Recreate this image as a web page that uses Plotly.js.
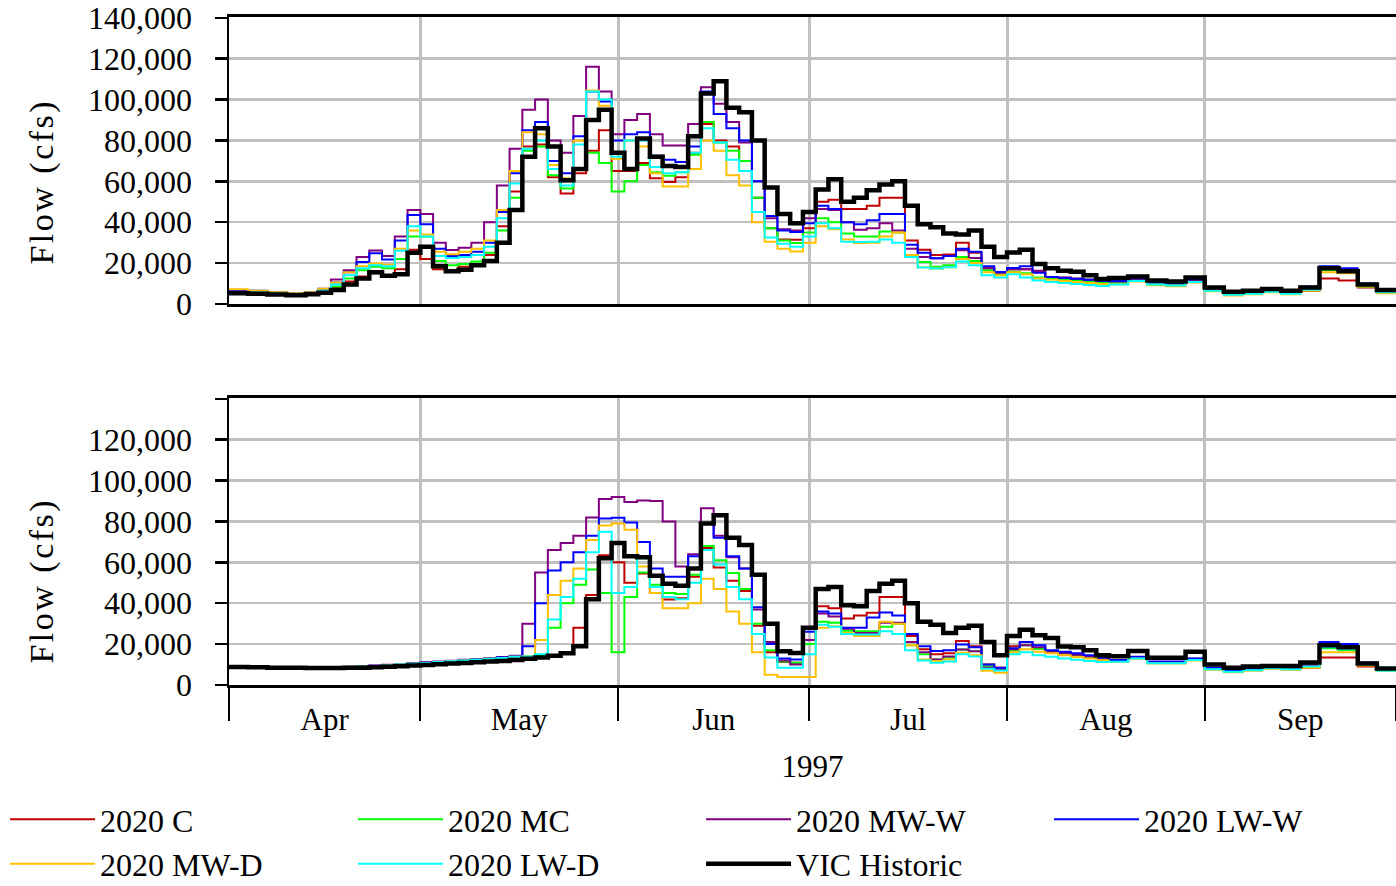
<!DOCTYPE html>
<html><head><meta charset="utf-8">
<script src="https://cdn.plot.ly/plotly-3.0.1.min.js"></script>
<style>
html,body{margin:0;padding:0;background:#fff;}
#chart{width:1396px;height:886px;}
#chart .annotation-text{letter-spacing:2.5px;}
</style>
</head><body><div id="chart"></div>
<script>
// Day offsets from 1 Apr 1997 at which each step starts
const days = [0,3,6,9,12,
  14,16,18,20,22,24,26,28,30,32,34,36,38,40,42,44,
  46,48,50,52,54,56,58,60,62,64,66,68,70,72,74,76,78,80,82,84,86,88,90,
  92,94,96,98,100,102,104,106,108,110,112,114,116,118,120,122,124,126,128,130,132,134,136,138,
  141,144,147,150,153,156,159,162,165,168,171,174,177,180];

const seriesNames = ['2020 C','2020 MC','2020 MW-W','2020 LW-W','2020 MW-D','2020 LW-D','VIC Historic'];
const seriesColors = ['#c00000','#00ff00','#800080','#0000ff','#ffc000','#00ffff','#000000'];
const seriesWidths = [2,2,2,2,2,2,4.5];

// ---------- Upper panel flows (cfs) ----------
const topC = [5500,5200,4800,4500,5200,
  6000,8000,11000,13500,15000,13500,17000,26500,22000,17000,16000,18200,19500,24000,38000,55000,
  77000,78000,62000,54000,64000,75000,85000,65000,65000,69000,61500,59700,62000,74000,88000,80000,77000,70000,52000,37000,31500,31400,37000,
  50000,51000,46500,46500,48000,52000,52000,31000,26500,24000,24200,30000,25000,17500,15500,17000,17000,16000,13200,12800,12300,11800,11200,10500,
  11800,10000,9500,11300,7000,5000,5500,6500,5500,6300,12500,11500,8000,5500];
const topMC = [5600,5400,4900,4500,5000,
  6500,8500,12500,16500,18200,17500,22000,33000,33000,21000,19000,19600,20800,25000,36000,52000,
  75000,77000,63000,56500,66000,74000,69000,55000,60000,68000,64500,62700,64500,73000,89000,79000,75000,70000,52000,37000,31000,29800,35000,
  42000,40000,34500,33000,33000,35500,35000,24000,20500,18200,19000,23000,21000,16500,14300,15800,15000,13000,12500,12000,11500,11000,10500,10200,
  11500,9700,9200,11000,6700,4700,5200,6200,5200,6800,16500,15500,8500,5500];
const topMWW = [6500,6200,5600,5200,5800,
  7500,12000,16500,23000,26200,23500,33000,46000,44000,30000,26400,27500,30000,40000,58000,76000,
  95000,100000,80000,74000,92000,116000,104000,83000,90000,93000,83000,77500,77500,88000,106000,98000,89000,79000,60000,42000,36500,36000,42000,
  46500,46000,40000,36300,37000,39500,36000,27000,23000,22400,23500,26300,22500,17500,15300,17000,17000,16200,13200,12800,12300,11800,11200,11000,
  12300,10500,10000,11800,7500,5500,6000,7000,6000,7500,18000,16500,9500,6000];
const topLWW = [6800,6500,5700,5200,5800,
  7000,10500,15500,20500,24800,21800,31000,43500,39000,27000,23500,24000,25500,30000,45000,64000,
  85000,89000,70000,64000,82000,104000,99000,80000,83000,84000,72500,70500,69500,77000,104000,93000,86000,80000,60000,43000,36000,35200,39500,
  48000,46500,40000,39000,41000,44000,44000,29000,25000,22400,23500,27000,25500,18500,15600,17600,18500,15300,13200,12800,12300,11800,11200,11300,
  12600,10800,10300,12100,7800,5800,6300,7300,6300,8500,18500,17500,10000,6000];
const topMWD = [7200,6500,5700,5200,5700,
  7500,10500,15500,18500,19800,19200,27000,36000,34000,25500,24300,25500,27000,31000,46000,65000,
  84000,83000,68000,61500,80000,104500,97000,71000,80000,77000,64000,57500,57500,66000,80000,75000,63000,58000,40000,30500,27000,25700,30000,
  38000,36500,31500,29800,30000,33000,35000,24000,18000,17300,18000,22000,20000,15500,14000,15500,14500,12500,11800,11300,10800,10300,9800,9700,
  11000,9200,8700,10500,6200,4200,4700,5700,4700,6500,15500,15000,8500,5200];
const topLWD = [5800,5600,5100,4700,5100,
  6500,9500,14000,17500,19000,18500,26000,38000,33000,23500,22500,23000,24000,28000,42000,59000,
  76000,80000,66000,58000,78000,104000,100000,72000,80000,80000,67000,64000,64500,74000,86000,79000,70500,65000,45000,32500,29500,28000,33000,
  39500,37000,30500,30300,30500,31500,30000,23000,17800,17300,18000,20800,19000,14000,13000,14500,13000,11500,10800,10300,9800,9300,8800,9500,
  11300,9500,9000,10800,6500,4500,5000,6000,5000,7000,17000,16500,9000,5700];
const topVIC = [5200,5000,4600,4300,4800,
  5500,6800,9500,12500,15500,13800,14500,25000,28000,18500,16000,16800,19000,21000,30000,46000,
  72000,86000,77000,60500,66000,90000,95000,74000,66000,81000,72000,67500,67000,82000,103000,109000,96000,93800,80000,57000,44000,39500,45000,
  56000,61000,50000,52000,55600,58500,60000,48000,39000,37500,34500,34000,36000,28000,23000,25200,26500,19500,17500,16300,15800,14000,12200,12700,
  13500,11500,11000,13000,8000,6000,6500,7300,6500,8000,17500,16000,9500,6800];

// ---------- Lower panel flows (cfs) ----------
const botC = [8900,8700,8500,8400,8400,
  8400,8400,8500,8700,8900,9100,9400,9700,10000,10300,10700,11000,11300,11700,12000,12500,
  13000,13800,14500,15500,28000,44000,63500,60000,50000,54500,45000,41800,42500,53000,67000,57500,51000,46000,29000,16000,11200,10900,22000,
  38500,37500,32500,34000,35300,43000,43000,24000,17500,15000,15500,21500,19000,10000,8500,19000,21000,17800,16500,15500,14700,13800,13000,11900,
  13500,11200,11200,12700,8200,7000,7700,8700,8200,8500,13500,13500,9000,7200];
const botMC = [8900,8700,8500,8400,8400,
  8500,8600,8800,9100,9300,9600,10000,10400,10800,11200,11600,12000,12400,12800,13200,13800,
  14000,14500,28000,40000,49000,56500,45000,16000,43000,55000,49000,45000,44500,54000,68000,61000,54800,47000,30000,17000,11500,10900,20000,
  31000,30500,26500,26300,26300,28500,30000,19500,15000,12500,13500,17400,16500,9000,7600,17000,19500,17700,16500,15700,14800,14000,13200,11700,
  13300,11000,11000,12500,8000,6800,7500,8500,8000,9000,18000,17000,10000,7000];
const botMWW = [8900,8700,8500,8400,8400,
  8500,8600,8900,9200,9500,9900,10300,10700,11100,11500,11900,12300,12700,13200,13700,14300,
  30000,55000,66000,69500,73000,82000,91000,92000,89500,90300,90000,80000,58000,64000,86500,73000,62500,57000,37000,21000,12000,10000,22000,
  35000,33500,27500,25500,25500,30500,30500,21000,16000,12500,14000,17400,16500,8500,7600,17500,19500,18500,16300,15500,14800,14000,13300,12000,
  13600,11300,11300,12800,8300,7100,7800,8800,8300,9500,20000,19000,10500,7300];
const botLWW = [8900,8700,8500,8400,8400,
  8500,8600,8800,9100,9400,9700,10100,10500,10900,11300,11700,12100,12500,12900,13400,14000,
  19000,40000,56000,60000,65000,73000,81500,81800,79500,70000,57000,53000,53000,63000,79000,72000,63000,57000,38000,20000,13000,12500,26000,
  36000,35000,28000,28000,33000,35500,34000,25000,19000,16600,17000,19800,18500,10000,8500,18000,21000,19500,17000,16300,15500,14500,13500,12200,
  13800,11500,11500,13000,8500,7300,8000,9000,8500,10500,21000,20000,11000,7500];
const botMWD = [8900,8700,8500,8400,8400,
  8500,8600,8800,9100,9300,9600,10000,10400,10800,11200,11600,12000,12400,12800,13200,13800,
  14000,22000,44000,51000,57000,71000,78000,79000,76000,58000,45000,37500,37500,40000,52000,47000,36000,30000,16000,5000,3900,3900,3900,
  28000,28800,25500,24000,24000,31000,30000,19500,12500,11700,12500,15800,14500,7000,6000,16000,17500,16300,15500,14500,13700,13000,12000,11200,
  12800,10500,10500,12000,7500,6300,7000,8000,7500,8500,16000,16000,9500,6800];
const botLWD = [8900,8700,8500,8400,8400,
  8500,8600,8800,9100,9300,9600,10000,10400,10800,11200,11600,12000,12400,12800,13200,13800,
  14000,15000,32000,43000,52000,65000,75000,45000,48000,62000,48000,43000,42000,50000,66000,59000,48000,42000,25000,13500,8500,8500,15000,
  29500,28500,25000,24700,24700,26300,25000,17000,12000,10900,11500,15000,14000,8000,7100,15000,16000,14600,13800,13000,12400,11800,11200,11400,
  13000,10700,10700,12200,7700,6500,7200,8200,7700,9000,18500,17500,10000,7000];
const botVIC = [8800,8700,8500,8400,8300,
  8300,8300,8400,8500,8700,8900,9200,9500,9800,10100,10500,10800,11100,11500,11800,12200,
  12800,13500,14300,15500,19000,42000,62000,69500,63000,62500,53500,49500,48500,57000,79000,83000,72000,68500,54000,30000,16500,15600,28000,
  47000,48000,39000,38500,46000,49500,51000,40000,31000,29500,25500,28000,29000,21000,14500,24000,27000,24400,23000,18800,18500,17000,14500,14100,
  16600,13300,13300,16300,10000,8500,9000,9300,9300,11000,19500,18500,10500,8100];

const yTickVals = [0,20000,40000,60000,80000,100000,120000,140000];
const yTickTextTop = ['0','20,000','40,000','60,000','80,000','100,000','120,000','140,000'];
const yTickTextBot = ['0','20,000','40,000','60,000','80,000','100,000','120,000',''];

const topSeries = [topC, topMC, topMWW, topLWW, topMWD, topLWD, topVIC];
const botSeries = [botC, botMC, botMWW, botLWW, botMWD, botLWD, botVIC];

const startMs = Date.UTC(1997, 3, 1);
function dayToDate(d){ return new Date(startMs + d*86400000).toISOString().slice(0,10); }
// the last step is held to the end of the period (1 Oct)
const xDates = days.map(dayToDate).concat(['1997-10-01']);
function hold(v){ return v.concat([v[v.length-1]]); }

const traces = [];
seriesNames.forEach((nm, i) => {
  traces.push({x:xDates, y:hold(topSeries[i]), xaxis:'x', yaxis:'y', type:'scatter', mode:'lines',
    name:nm, legendgroup:nm, showlegend:true,
    line:{shape:'hv', color:seriesColors[i], width:seriesWidths[i]}});
});
seriesNames.forEach((nm, i) => {
  traces.push({x:xDates, y:hold(botSeries[i]), xaxis:'x2', yaxis:'y2', type:'scatter', mode:'lines',
    name:nm, legendgroup:nm, showlegend:false,
    line:{shape:'hv', color:seriesColors[i], width:seriesWidths[i]}});
});

const FONT = '"Liberation Serif", "Times New Roman", Times, serif';
const xCommon = {
  type:'date', range:['1997-04-01','1997-10-01'], domain:[0,1],
  dtick:'M1', tick0:'1997-04-01',
  showgrid:true, gridcolor:'#c0c0c0', gridwidth:3,
  showline:true, linecolor:'#000', linewidth:3, mirror:true, zeroline:false
};
const yCommon = {
  range:[0,140400], tickvals:yTickVals,
  showgrid:true, gridcolor:'#c0c0c0', gridwidth:2.5, zeroline:false,
  showline:true, linecolor:'#000', linewidth:2.5,
  ticks:'outside', ticklen:12, tickwidth:2.5, tickcolor:'#000',
  tickfont:{family:FONT, size:32, color:'#000'}, ticklabelstandoff:16
};

const layout = {
  width:1396, height:886,
  margin:{l:229, r:0, t:17, b:201, autoexpand:false},
  paper_bgcolor:'#fff', plot_bgcolor:'#fff',
  font:{family:FONT, size:32, color:'#000'},
  showlegend:true,
  legend:{orientation:'h', x:-0.1919, xanchor:'left', y:-0.160, yanchor:'top',
    itemwidth:85, entrywidth:248, entrywidthmode:'pixels', traceorder:'normal',
    font:{family:FONT, size:32, color:'#000'}, bgcolor:'rgba(0,0,0,0)'},
  xaxis: Object.assign({}, xCommon, {anchor:'y', showticklabels:false, ticks:''}),
  xaxis2: Object.assign({}, xCommon, {anchor:'y2', ticks:'outside', ticklen:33, tickwidth:2, tickcolor:'#000',
    ticklabelmode:'period', tickformat:'%b', ticklabelstandoff:-28,
    tickfont:{family:FONT, size:31, color:'#000'},
    title:{text:'1997', font:{family:FONT, size:31, color:'#000'}, standoff:20}}),
  yaxis: Object.assign({}, yCommon, {domain:[0.5704,1], anchor:'x', ticktext:yTickTextTop}),
  yaxis2: Object.assign({}, yCommon, {domain:[0,0.4296], anchor:'x2', ticktext:yTickTextBot}),
  annotations:[
    {text:'Flow (cfs)', xref:'paper', yref:'paper', x:-0.1602, y:0.753, textangle:-90,
      showarrow:false, xanchor:'center', yanchor:'middle', font:{family:FONT, size:34, color:'#000'}},
    {text:'Flow (cfs)', xref:'paper', yref:'paper', x:-0.1602, y:0.1557, textangle:-90,
      showarrow:false, xanchor:'center', yanchor:'middle', font:{family:FONT, size:34, color:'#000'}}
  ]
};

Plotly.newPlot('chart', traces, layout, {staticPlot:true, displayModeBar:false});
</script>
</body></html>
